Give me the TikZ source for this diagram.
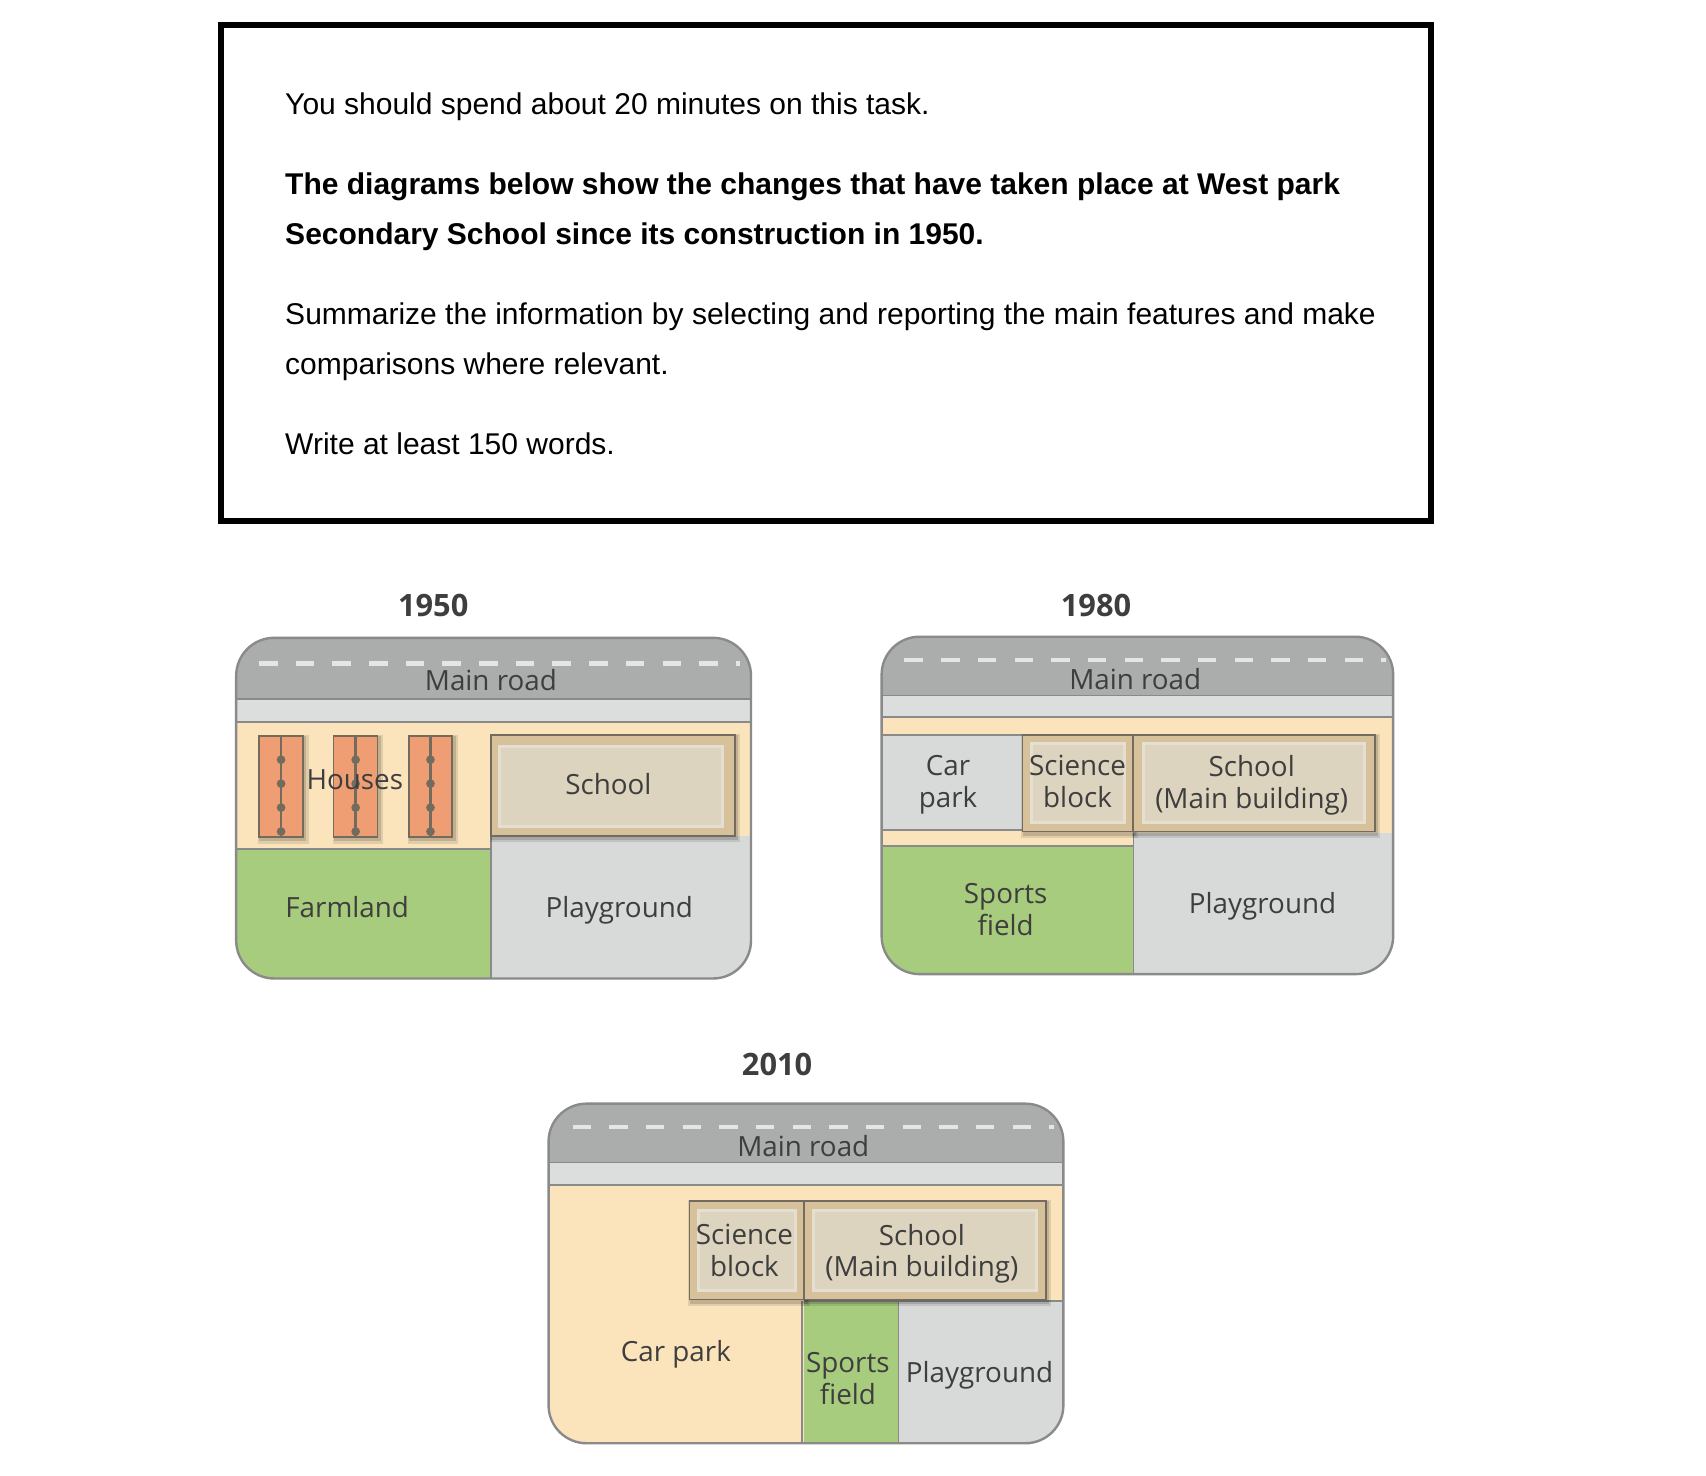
\documentclass[tikz,border=0pt]{standalone}
\usepackage{fontspec}
\setmainfont{Liberation Sans}
\newfontfamily\mapfont{Open Sans}
\definecolor{roadc}{HTML}{ABADAD}
\definecolor{stripc}{HTML}{DCDEDE}
\definecolor{beigec}{HTML}{FBE4BC}
\definecolor{greenc}{HTML}{A8CC7E}
\definecolor{grayc}{HTML}{D8DADA}
\definecolor{housec}{HTML}{EE9E72}
\definecolor{tanc}{HTML}{D6C19B}
\definecolor{innerc}{HTML}{DCD4BE}
\definecolor{rimc}{HTML}{E4DFD0}
\definecolor{edgec}{HTML}{8A8A8A}
\definecolor{darkedge}{HTML}{736C5E}
\definecolor{maptext}{HTML}{3E3E3E}
\tikzset{
  x=0.5442pt,y=-0.5442pt,
  para/.style={anchor=base west,inner sep=0pt,font=\fontsize{15}{18}\selectfont,text=black},
  parab/.style={para,font=\fontsize{15}{18}\selectfont\bfseries},
  maplabel/.style={inner sep=0pt,align=center,text=maptext,font=\mapfont\fontsize{13.9}{15.9}\selectfont},
  yearlabel/.style={inner sep=0pt,text=maptext,font=\mapfont\bfseries\fontsize{15.4}{16}\selectfont},
  sep/.style={draw=edgec,line width=0.9pt},
  dashline/.style={draw=white!90!black,line width=2.3pt},
}
\newcommand{\mapshape}[4]{(#1,#2) rectangle (#3,#4)}
\newcommand{\mapclip}[4]{\clip[rounded corners=19pt] \mapshape{#1}{#2}{#3}{#4};}
\newcommand{\mapedge}[4]{\draw[edgec,line width=1.2pt,rounded corners=19pt] \mapshape{#1}{#2}{#3}{#4};}
\newcommand{\maproad}[5]{%
  \fill[roadc] (#1,#2) rectangle (#3,#4);
  \fill[stripc] (#1,#4) rectangle (#3,#5);
  \draw[sep] (#1,#4) -- (#3,#4);
  \draw[sep] (#1,#5) -- (#3,#5);}
\newcommand{\mapdashes}[2]{%
  \foreach \i in {0,...,12}{\draw[dashline] ({#1+\i*33.7},#2) -- ({#1+\i*33.7+17},#2);}
  \draw[dashline] ({#1+13*33.7},#2) -- ({#1+13*33.7+4},#2);}
\newcommand{\softshadow}[4]{%
  \fill[black,opacity=.10] (#1-1,#2-1) rectangle (#3+5,#4+6);
  \fill[black,opacity=.14] (#1,#2) rectangle (#3+3,#4+4);}
\newcommand{\bldg}[8]{%
  \softshadow{#1}{#2}{#3}{#4}
  \fill[tanc] (#1,#2) rectangle (#3,#4);
  \draw[darkedge,line width=0.9pt] (#1,#2) rectangle (#3,#4);
  \fill[innerc] (#5,#6) rectangle (#7,#8);
  \draw[rimc,line width=1.5pt] (#5,#6) rectangle (#7,#8);}
\newcommand{\house}[2]{%
  \softshadow{#1}{676}{#2}{769}
  \fill[housec] (#1,676) rectangle (#2,769);
  \draw[darkedge,line width=0.8pt] (#1,676) rectangle (#2,769);
  \draw[darkedge,line width=1.3pt] ({(#1+#2)/2},676) -- ({(#1+#2)/2},769);
  \foreach \d in {698,720,742,764}{\fill[darkedge] ({(#1+#2)/2},\d) circle (4);}}
\begin{document}
\begin{tikzpicture}
\useasboundingbox (0pt,0pt) rectangle (853pt,-738pt);
\fill[white] (0pt,0pt) rectangle (853pt,-738pt);
\draw[black,line width=3pt] (203,23) rectangle (1315,479);
\node[para] (t1) at (261.7,105.5) {You should spend about 20 minutes on this task.};
\node[parab] (t2) at (261.7,178.5) {The diagrams below show the changes that have taken place at West park};
\node[parab] (t3) at (261.7,224.5) {Secondary School since its construction in 1950.};
\node[para] (t4) at (261.7,298.5) {Summarize the information by selecting and reporting the main features and make};
\node[para] (t5) at (261.7,344.5) {comparisons where relevant.};
\node[para] (t6) at (261.7,417.5) {Write at least 150 words.};
% 1950
\node[yearlabel] (y1) at (398,556) {1950};
\begin{scope}
  \mapclip{217}{586}{690}{899}
  \fill[beigec] (217,663) rectangle (690,780);
  \fill[greenc] (217,780) rectangle (451,899);
  \fill[grayc] (451,768) rectangle (690,899);
  \maproad{217}{586}{690}{642}{663}
  \draw[sep] (217,780) -- (451,780);
  \draw[sep] (451,768) -- (451,899);
  \mapdashes{238}{609.5}
  \bldg{451}{675}{675}{768}{459}{685.5}{664}{759}
  \house{238}{278.5}
  \house{306.5}{347}
  \house{375.5}{415.5}
\end{scope}
\mapedge{217}{586}{690}{899}
\node[maplabel] (a1) at (451,625) {Main road};
\node[maplabel] (a2) at (326,716) {Houses};
\node[maplabel] (a3) at (559,720) {School};
\node[maplabel] (a4) at (319,833) {Farmland};
\node[maplabel] (a5) at (569,836) {Playground};
% 1980
\node[yearlabel] (y2) at (1007,556) {1980};
\begin{scope}
  \mapclip{810}{585}{1280}{895}
  \fill[beigec] (810,659) rectangle (1280,777);
  \fill[grayc] (810,675.5) rectangle (939,762.5);
  \fill[greenc] (810,777) rectangle (1041.5,895);
  \fill[grayc] (1041.5,765) rectangle (1280,895);
  \maproad{810}{585}{1280}{639}{659}
  \draw[sep] (810,675.5) -- (939,675.5);
  \draw[sep] (810,762.5) -- (939,762.5);
  \draw[sep] (810,777) -- (1041.5,777);
  \draw[sep] (1041.5,765) -- (1041.5,895);
  \mapdashes{831}{606.5}
  \bldg{939.5}{675}{1041}{764}{947.5}{683}{1033.5}{756}
  \bldg{1041}{675}{1263}{764}{1051}{683}{1253.5}{756}
\end{scope}
\mapedge{810}{585}{1280}{895}
\node[maplabel] (b1) at (1043,624) {Main road};
\node[maplabel] (b2) at (871,721) {Car\\park};
\node[maplabel] (b3) at (990,718) {Science\\block};
\node[maplabel] (b4) at (1150,721.5) {School\\(Main building)};
\node[maplabel] (b5) at (924,836) {Sports\\field};
\node[maplabel] (b6) at (1160,833) {Playground};
% 2010
\node[yearlabel] (y3) at (714,978) {2010};
\begin{scope}
  \mapclip{504}{1014}{977}{1326}
  \fill[beigec] (504,1089) rectangle (977,1326);
  \fill[greenc] (739,1195) rectangle (825.5,1326);
  \fill[grayc] (825.5,1195) rectangle (977,1326);
  \maproad{504}{1014}{977}{1068}{1089}
  \draw[sep] (739,1195) -- (977,1195);
  \draw[sep] (737,1195) -- (737,1326);
  \draw[sep] (825.5,1195) -- (825.5,1326);
  \mapdashes{526}{1035.5}
  \bldg{633.5}{1103.5}{739}{1194}{642}{1112}{730.5}{1186}
  \bldg{739}{1103.5}{961}{1194}{747}{1112}{952}{1186}
\end{scope}
\mapedge{504}{1014}{977}{1326}
\node[maplabel] (c1) at (738,1053) {Main road};
\node[maplabel] (c2) at (684,1148.5) {Science\\block};
\node[maplabel] (c3) at (847,1152) {School\\(Main building)};
\node[maplabel] (c4) at (621,1244) {Car park};
\node[maplabel] (c5) at (779,1266.5) {Sports\\field};
\node[maplabel] (c6) at (900,1264) {Playground};
\end{tikzpicture}
\end{document}
